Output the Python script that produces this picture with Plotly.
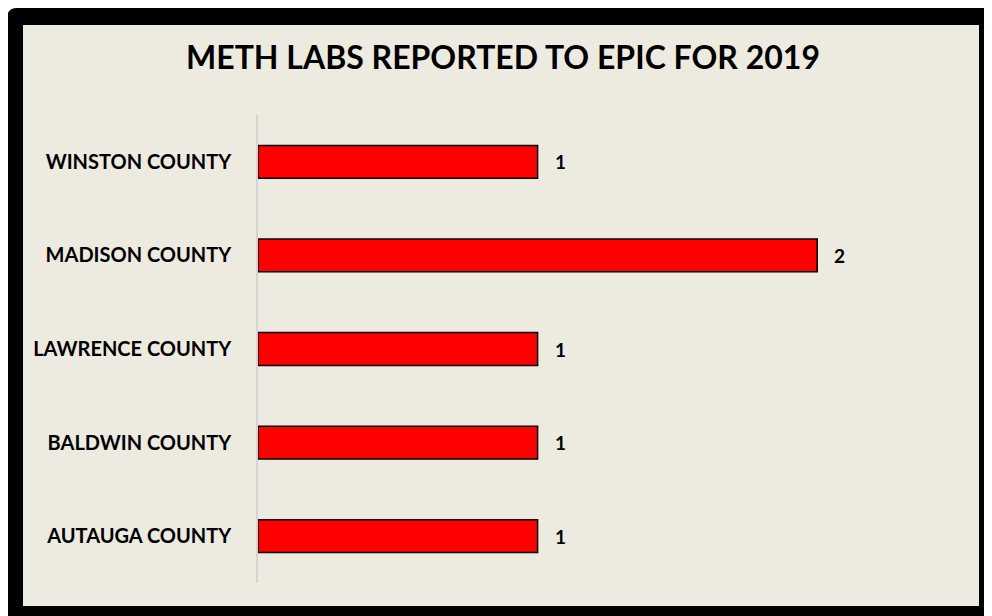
import plotly.graph_objects as go

counties = ["AUTAUGA COUNTY", "BALDWIN COUNTY", "LAWRENCE COUNTY", "MADISON COUNTY", "WINSTON COUNTY"]
labs = [1, 1, 1, 2, 1]
title_text = "METH LABS REPORTED TO EPIC FOR 2019"

W, H = 992, 616
OFF = 8  # page body margin offset
L, T = 258 - OFF, 115 - OFF
PLOT_R, PLOT_B = 957 - OFF, 583 - OFF
R, B = W - PLOT_R, H - PLOT_B
pw = W - L - R
ph = H - T - B

def px(x):
    return (x - OFF - L) / pw

def py(y):
    return (H - B - (y - OFF)) / ph

BEIGE = "#EDEAE0"
FONT = "Lato"

fig = go.Figure()
fig.add_trace(go.Bar(
    y=counties, x=labs, orientation="h",
    marker=dict(color="#FF0000", line=dict(color="#000000", width=1.5)),
    width=0.35, hoverinfo="skip",
))

for c, v in zip(counties, labs):
    fig.add_annotation(x=v, y=c, text=str(v), showarrow=False, xanchor="left",
                       xshift=15, font=dict(family=FONT, size=19, color="#000000", weight="bold"))

rad = 10
frame_path = (
    f"M {px(7)},{py(640)} L {px(7)},{py(8 + rad)} "
    f"Q {px(7)},{py(8)} {px(7 + rad)},{py(8)} "
    f"L {px(1010)},{py(8)} L {px(1010)},{py(640)} Z"
)

shapes = [
    dict(type="path", xref="paper", yref="paper", path=frame_path,
         fillcolor="#000000", line=dict(width=0), layer="below"),
    dict(type="rect", xref="paper", yref="paper", x0=px(23), x1=px(979), y0=py(25), y1=py(606),
         fillcolor=BEIGE, line=dict(width=0), layer="below"),
]

fig.update_layout(
    width=W, height=H,
    margin=dict(l=L, r=R, t=T, b=B),
    paper_bgcolor="#FFFFFF",
    plot_bgcolor="rgba(0,0,0,0)",
    shapes=shapes,
    showlegend=False,
    title=dict(text=title_text, xref="container", yref="container", x=(503 - OFF) / W, xanchor="center",
               y=1 - (58 - OFF) / H, yanchor="middle",
               font=dict(family=FONT, size=32, color="#000000", weight="bold")),
    xaxis=dict(range=[0, 2.5], visible=False, showgrid=False, zeroline=False),
    yaxis=dict(type="category", categoryorder="array", categoryarray=counties,
               showline=True, linecolor="#D4D4D4", linewidth=1.5, showgrid=False,
               ticks="", ticklabelstandoff=21,
               tickfont=dict(family=FONT, size=20, color="#000000", weight="bold")),
)

fig.write_html("out.html")
